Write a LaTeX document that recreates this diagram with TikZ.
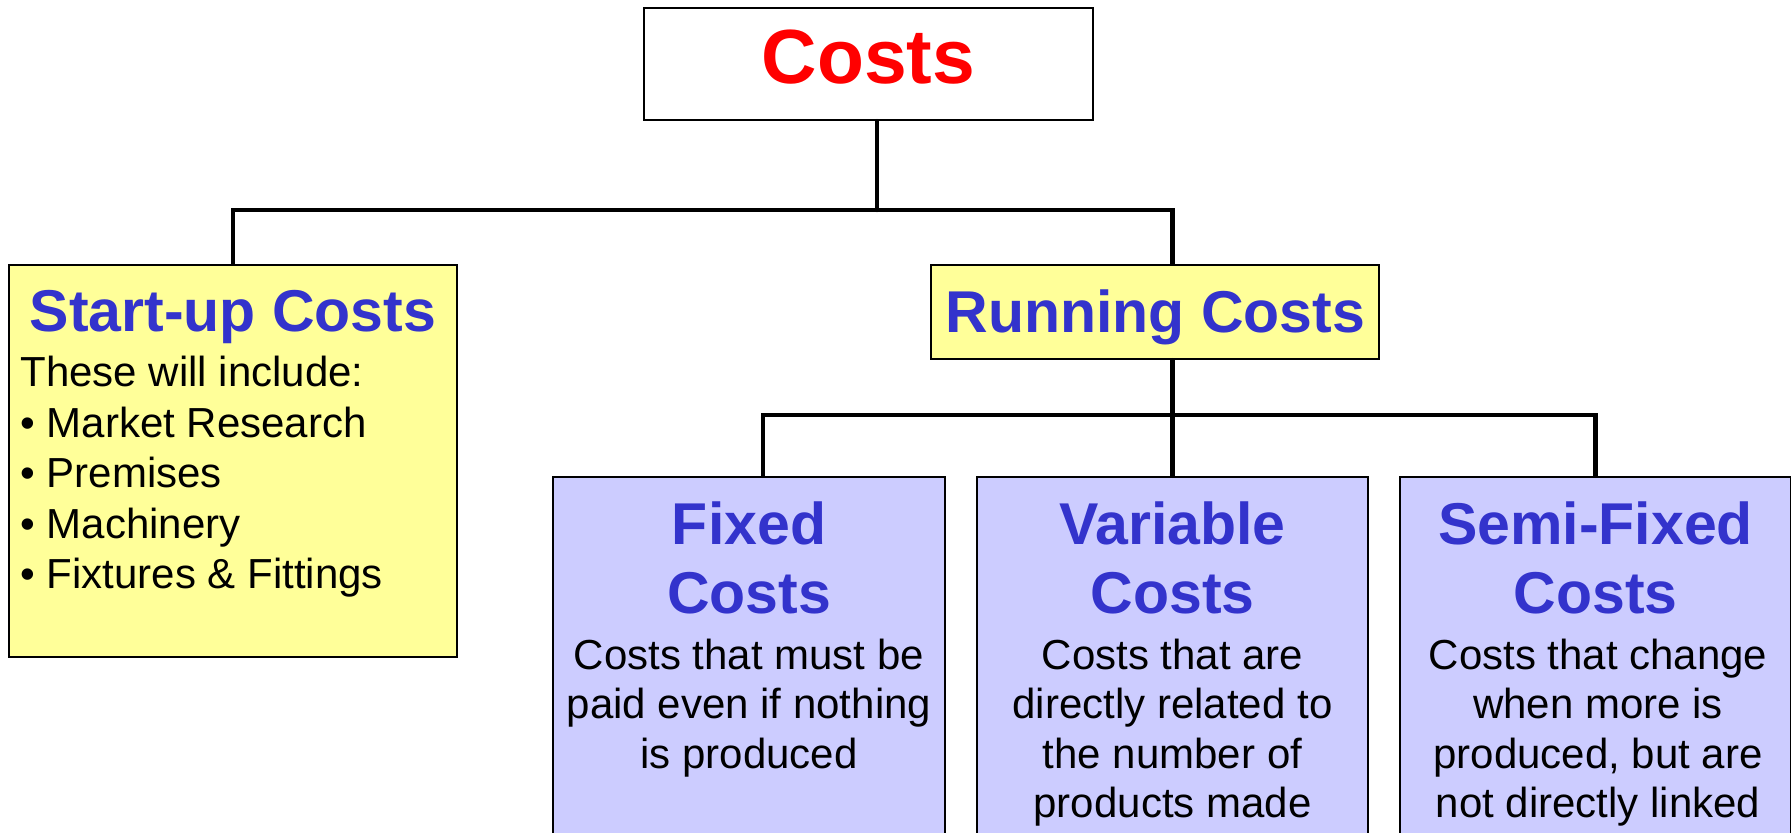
\documentclass[tikz,border=0pt]{standalone}
\usepackage{fontspec}
\setmainfont{Liberation Sans}
\usepackage{xcolor}
\usetikzlibrary{positioning}
\definecolor{costred}{RGB}{255,0,0}
\definecolor{headblue}{RGB}{51,51,204}
\definecolor{startfill}{RGB}{255,255,153}
\definecolor{kindfill}{RGB}{204,204,255}

\begin{document}
\begin{tikzpicture}[x=0.5pt, y=-0.5pt,
  box/.style={draw, line width=1.2pt, inner sep=0pt},
  link/.style={line width=2.2pt, line cap=round},
  head/.style={anchor=base, inner sep=0pt, text=headblue, font=\bfseries\fontsize{29.5}{34.5}\selectfont},
  body/.style={anchor=base, inner sep=0pt, font=\fontsize{21}{24.8}\selectfont}]
  \useasboundingbox (0,0) rectangle (1791,833);
  \clip (0,0) rectangle (1791,833);

  % boxes
  \node[box, fill=white, minimum width=224.5pt, minimum height=56pt] (costs) at (868.5,64) {};
  \node[box, fill=startfill, minimum width=224pt, minimum height=196pt] (startup) at (233,461) {};
  \node[box, fill=startfill, minimum width=224pt, minimum height=47pt] (running) at (1155,312) {};
  \node[box, fill=kindfill, minimum width=196pt, minimum height=228pt] (fixed) at (749,705) {};
  \node[box, fill=kindfill, minimum width=195.5pt, minimum height=228pt] (variable) at (1172.5,705) {};
  \node[box, fill=kindfill, minimum width=195.5pt, minimum height=228pt] (semifixed) at (1595.5,705) {};

  % texts
  \node[anchor=base, inner sep=0pt, text=costred, font=\bfseries\fontsize{38.4}{44}\selectfont] (coststitle) at (868.5,84) {Costs};
  \node[head] (startuptitle) at (233,332) {Start-up Costs};
  \node[body, anchor=base west, font=\fontsize{21}{25.2}\selectfont] (startuplist) at (20,387) {\parbox[t]{215pt}{\raggedright These will include:\\
    \textbullet\ Market Research\\ \textbullet\ Premises\\ \textbullet\ Machinery\\ \textbullet\ Fixtures \& Fittings}};
  \node[head] (runningtitle) at (1155.5,333) {Running Costs};
  \node[head] (fixedtitle) at (749,544) {\parbox[t]{195pt}{\centering Fixed\\ Costs}};
  \node[body] (fixedtext) at (749,669) {\parbox[t]{195pt}{\centering Costs that must be\\ paid even if nothing\\ is produced}};
  \node[head] (variabletitle) at (1172.5,544) {\parbox[t]{195pt}{\centering Variable\\ Costs}};
  \node[body] (variabletext) at (1172.5,669) {\parbox[t]{195pt}{\centering Costs that are\\ directly related to\\ the number of\\ products made}};
  \node[head] (semifixedtitle) at (1595.5,544) {\parbox[t]{195pt}{\centering Semi-Fixed\\ Costs}};
  \node[body] (semifixedtext) at (1598,669) {\parbox[t]{195pt}{\centering Costs that change\\ when more is\\ produced, but are\\ not directly linked}};

  % connectors
  \coordinate (top) at (877,210);
  \coordinate (split) at (763,415);
  \draw[link] (costs.south -| top) -- (top);
  \draw[link] (startup.north) -- (startup.north |- top) -- (top -| variable.north) -- (running.north -| variable.north);
  \draw[link] (running.south -| variable.north) -- (variable.north);
  \draw[link] (fixed.north -| split) -- (split) -- (split -| semifixed.north) -- (semifixed.north);
\end{tikzpicture}
\end{document}
